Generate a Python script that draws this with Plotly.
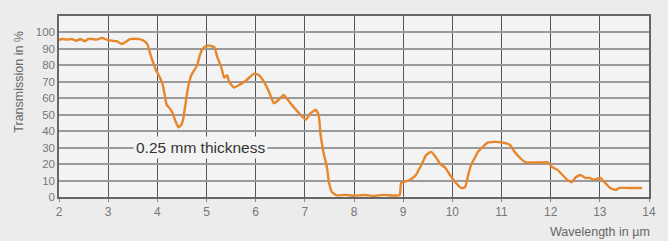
import plotly.graph_objects as go

wavelength = [2.0, 2.06, 2.16, 2.26, 2.36, 2.43, 2.53, 2.59, 2.67, 2.77, 2.87, 2.97, 3.07, 3.17, 3.28,
              3.38, 3.44, 3.54, 3.64, 3.74, 3.80, 3.84, 3.88, 3.94, 3.98, 4.04, 4.11, 4.15, 4.19, 4.25,
              4.31, 4.37, 4.43, 4.49, 4.53, 4.57, 4.61, 4.65, 4.69, 4.75, 4.81, 4.85, 4.91, 4.98,
              5.06, 5.16, 5.22, 5.30, 5.36, 5.42, 5.46, 5.56, 5.66, 5.81, 5.97, 6.07, 6.17, 6.27,
              6.37, 6.43, 6.57, 6.68, 6.82, 6.94, 7.02, 7.12, 7.22, 7.28, 7.32, 7.38, 7.45, 7.49,
              7.55, 7.65, 7.8, 8.0, 8.2, 8.4, 8.6, 8.8, 8.93,
              8.96, 9.11, 9.25, 9.37, 9.47, 9.57, 9.67, 9.77, 9.85, 9.96, 10.06, 10.18, 10.26,
              10.32, 10.38, 10.46, 10.52, 10.62, 10.72, 10.87, 11.03, 11.17, 11.27, 11.37, 11.49,
              11.64, 11.80, 11.94, 12.04, 12.14, 12.24, 12.34, 12.43, 12.51, 12.61, 12.71, 12.79,
              12.89, 13.01, 13.11, 13.21, 13.32, 13.40, 13.56, 13.86]
transmission = [95.5, 96, 95.7, 96, 95, 96, 94.7, 96, 96, 95.7, 96.7, 95.7, 95, 94.7, 93,
                94.7, 96, 96.2, 96, 94.7, 92.7, 88.6, 84.7, 79.5, 76.4, 73.4, 68.3, 62, 56, 54,
                51, 46, 42.3, 44, 48, 56, 64, 70, 74, 77, 80, 84.7, 89.6, 91.6,
                92, 91, 85, 79, 72.5, 74, 70, 66.5, 68, 71, 75, 74, 70, 64,
                57, 58, 62, 58, 53, 49, 47, 51, 53, 50, 38, 27, 18, 9,
                3, 1, 1.3, 0.8, 1.2, 0.7, 1.3, 0.9, 1.2,
                8.5, 10, 13, 19.5, 25.6, 27.4, 24, 19.5, 18, 13, 9, 5.5, 6,
                13, 19.5, 24, 27.4, 30.5, 33, 33.5, 33, 31.7, 27.4, 24, 21,
                21, 21, 21, 18, 16.5, 13.4, 10.4, 9, 12, 13.4, 11.6, 11.6,
                10.4, 11.6, 8.5, 5.5, 4.3, 5.5, 5.5, 5.5]
x_ticks = list(range(2, 15))
y_ticks = list(range(0, 101, 10))

fig = go.Figure()
fig.add_trace(go.Scatter(x=wavelength, y=transmission, mode="lines",
                         line=dict(color="#e8862c", width=2.4, shape="spline", smoothing=0.4),
                         hoverinfo="skip", showlegend=False))

# darker 40% line
fig.add_shape(type="line", xref="paper", yref="y", x0=0, x1=1, y0=40, y1=40,
              line=dict(color="#333333", width=1.5), layer="below")

fig.add_annotation(x=4.88, y=30, text="0.25 mm thickness", showarrow=False,
                   font=dict(family="Liberation Sans, Arial", size=15.5, color="#333333"),
                   bgcolor="#f3f3f3", borderpad=2)

fig.add_annotation(x=1, y=0, xref="paper", yref="paper", yshift=-35, xshift=3, xanchor="right",
                   yanchor="middle", text="Wavelength in µm", showarrow=False,
                   font=dict(family="Liberation Sans, Arial", size=12.5, color="#666666"))
fig.add_annotation(x=0, y=0.93, xref="paper", yref="paper", xshift=-40, xanchor="center",
                   yanchor="top", text="Transmission in %", textangle=-90, showarrow=False,
                   font=dict(family="Liberation Sans, Arial", size=12.5, color="#666666"))

fig.update_layout(
    width=668, height=241,
    margin=dict(l=59, r=16, t=16, b=44),
    paper_bgcolor="#ececec",
    plot_bgcolor="#f3f3f3",
    font=dict(family="Liberation Sans, Arial", size=11, color="#777777"),
    xaxis=dict(range=[2, 14], tickvals=x_ticks, showgrid=True, gridcolor="#555555",
               gridwidth=1.3, zeroline=False, showline=True, linecolor="#666666",
               linewidth=1.5, mirror=True, ticks="outside", ticklen=3, tickcolor="#888888",
               tickfont=dict(size=12, color="#777777")),
    yaxis=dict(range=[0, 110], tickvals=y_ticks, showgrid=True, gridcolor="#9a9a9a",
               gridwidth=1.5, zeroline=False, showline=True, linecolor="#666666",
               linewidth=1.5, mirror=True, ticks="", ticklen=3,
               tickfont=dict(size=11.5, color="#777777")),
)

fig.write_html("out.html", config={"displayModeBar": False},
               post_script="document.body.style.margin='0';document.body.style.background='#ececec';")
